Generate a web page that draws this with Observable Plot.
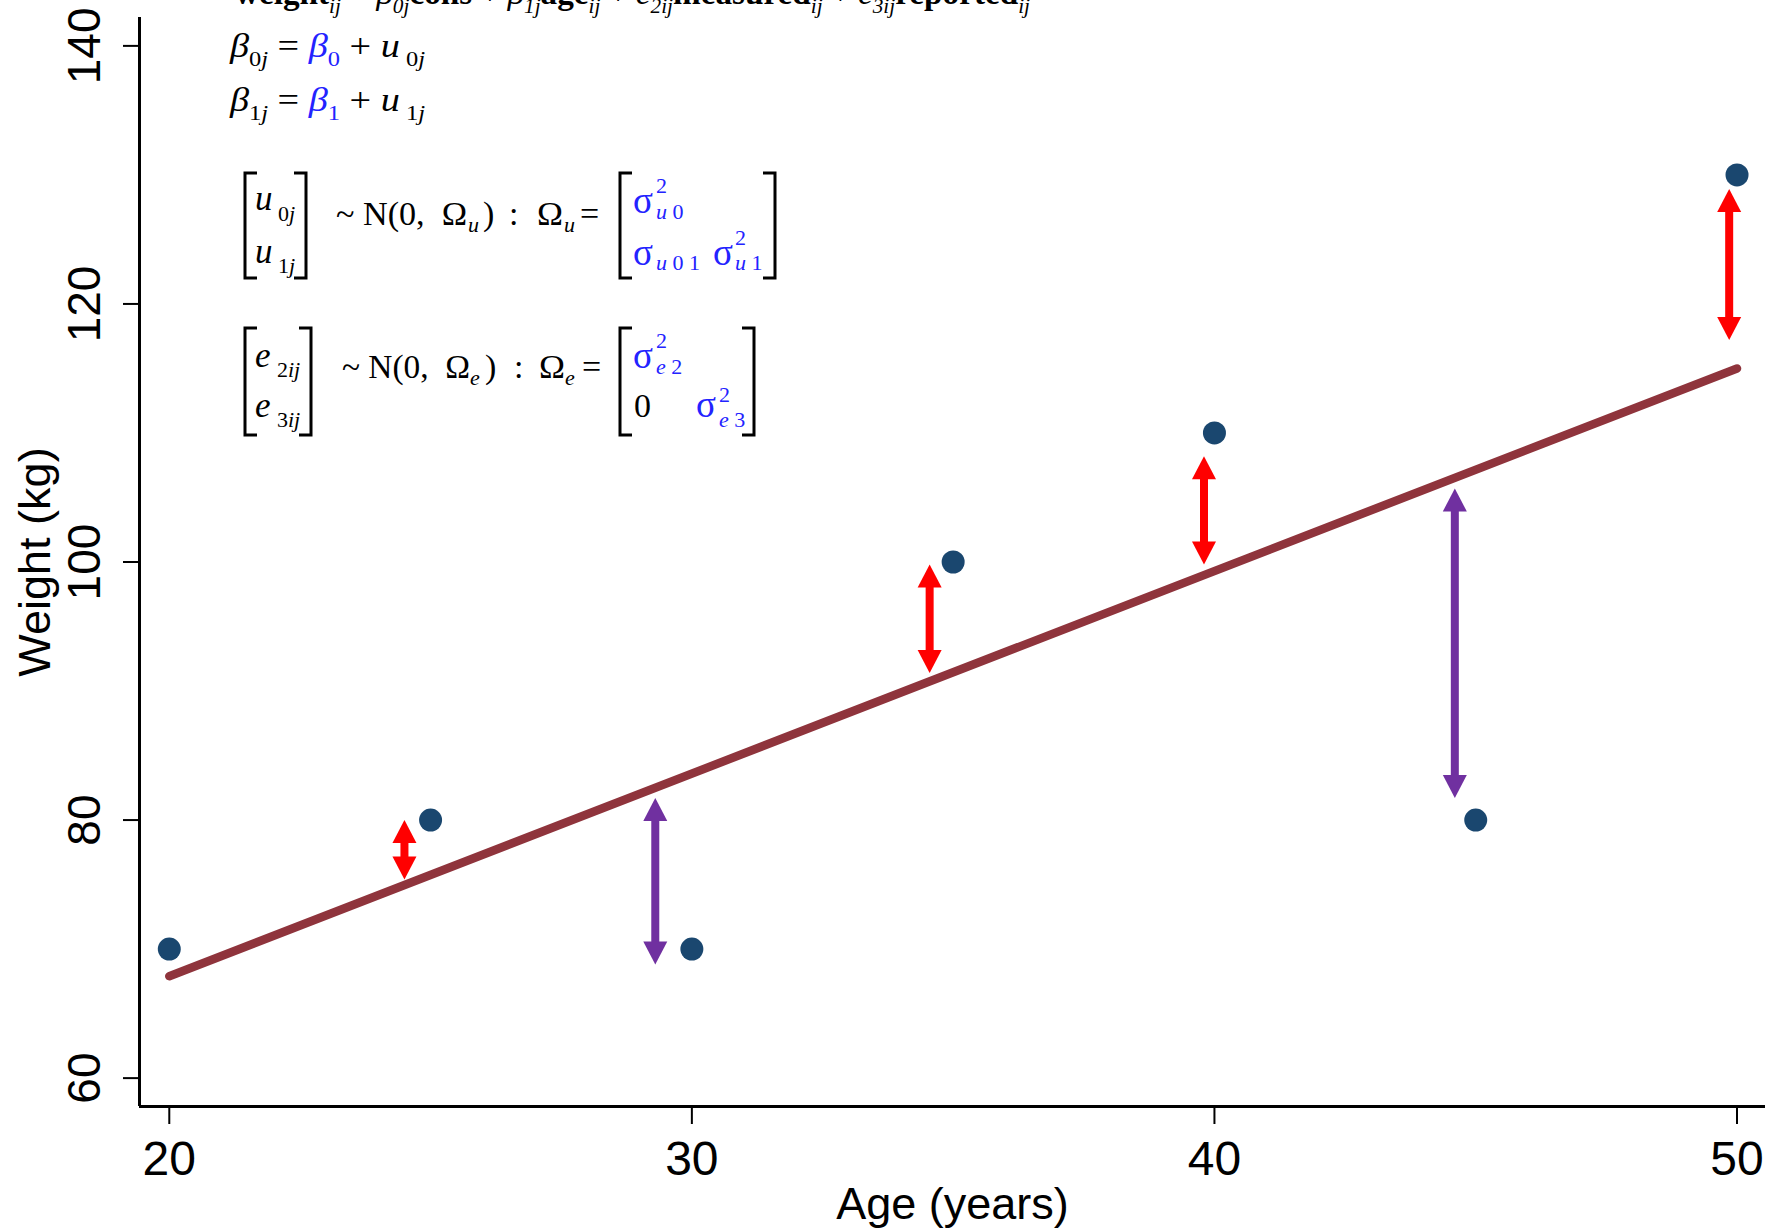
<!DOCTYPE html>
<html><head><meta charset="utf-8">
<script src="https://cdn.jsdelivr.net/npm/d3@7"></script>
<script src="https://cdn.jsdelivr.net/npm/@observablehq/plot@0.6"></script>
<style>
body{margin:0;background:#fff;}
#wrap{position:relative;width:1783px;height:1232px;overflow:hidden;background:#fff;}
#eq{position:absolute;left:0;top:0;pointer-events:none;}
</style></head><body><div id="wrap"></div>
<script>
// ---- data ----
const ages = [20, 25, 30, 35, 40, 45, 50];
const weights = [70, 80, 70, 100, 110, 80, 130];
const fitAge = [20, 50];
const fitWeight = [67.9, 115.0];
const arrowAge = [24.5, 29.3, 34.55, 39.8, 44.6, 49.85];
const arrowLow = [75.4, 68.8, 91.4, 99.8, 81.7, 117.2];
const arrowHigh = [80.0, 81.7, 99.8, 108.2, 105.7, 128.9];
const arrowKind = ["measured", "reported", "measured", "measured", "reported", "measured"];
const arrowKinds = ["measured", "reported"];
const xTicks = [20, 30, 40, 50];
const yTicks = [60, 80, 100, 120, 140];
const xLabel = "Age (years)";
const yLabel = "Weight (kg)";
const xDomain = [19.43, 50.545];
const yDomain = [57.8, 142.2];

// ---- styles ----
const pointColor = "#1a476f";
const lineColor = "#8f343c";
const arrowColors = ["#ff0000", "#7030a0"];
const BLUE = "#2323ff";

const points = ages.map((a, i) => ({age: a, w: weights[i]}));
const fit = fitAge.map((a, i) => ({age: a, w: fitWeight[i]}));
const arrows = arrowAge.map((a, i) => ({age: a, low: arrowLow[i], high: arrowHigh[i], kind: arrowKind[i]}));

const HW = 12, HL = 23;
const headUp = {draw(ctx) { ctx.moveTo(0, 0); ctx.lineTo(HW, HL); ctx.lineTo(-HW, HL); ctx.closePath(); }};
const headDown = {draw(ctx) { ctx.moveTo(0, 0); ctx.lineTo(HW, -HL); ctx.lineTo(-HW, -HL); ctx.closePath(); }};

const plot = Plot.plot({
  width: 1783, height: 1232,
  marginLeft: 139, marginRight: 18, marginTop: 17, marginBottom: 126,
  x: {domain: xDomain},
  y: {domain: yDomain},
  color: {domain: arrowKinds, range: arrowColors},
  style: {fontFamily: "'Liberation Sans', Arial, sans-serif", background: "white", color: "#000"},
  marks: [
    Plot.ruleX([xDomain[0]], {stroke: "#000", strokeWidth: 3}),
    Plot.ruleY([yDomain[0]], {stroke: "#000", strokeWidth: 3}),
    Plot.axisY(yTicks, {tickSize: 16, strokeWidth: 2, tickFormat: () => "", label: null}),
    Plot.text(yTicks, {y: d => d, frameAnchor: "left", rotate: -90, dx: -40, lineAnchor: "bottom", textAnchor: "middle", fontSize: 46, fill: "#000", text: d => String(d)}),
    Plot.axisX(xTicks, {tickSize: 18, tickPadding: 16, strokeWidth: 2, fontSize: 48, label: null, tickFormat: d => String(d)}),
    Plot.text([yLabel], {frameAnchor: "left", rotate: -90, dx: -90, lineAnchor: "bottom", textAnchor: "middle", fontSize: 45, fill: "#000", text: d => d}),
    Plot.text([xLabel], {frameAnchor: "bottom", dy: 112, lineAnchor: "bottom", textAnchor: "middle", fontSize: 45, fill: "#000", text: d => d}),
    Plot.line(fit, {x: "age", y: "w", stroke: lineColor, strokeWidth: 8.5, strokeLinecap: "round"}),
    Plot.ruleX(arrows, {x: "age", y1: "high", y2: "low", stroke: "kind", strokeWidth: 8, insetTop: 14, insetBottom: 14}),
    Plot.dot(arrows, {x: "age", y: "high", symbol: headUp, fill: "kind", stroke: null, r: 10}),
    Plot.dot(arrows, {x: "age", y: "low", symbol: headDown, fill: "kind", stroke: null, r: 10}),
    Plot.dot(points, {x: "age", y: "w", r: 11.5, fill: pointColor, stroke: null})
  ]
});
const wrap = document.getElementById("wrap");
wrap.appendChild(plot);

// ---- equation annotation overlay ----
const NS = "http://www.w3.org/2000/svg";
const ov = document.createElementNS(NS, "svg");
ov.setAttribute("width", 1783); ov.setAttribute("height", 1232); ov.id = "eq";
ov.style.fontFamily = "'Liberation Serif','Times New Roman',serif";
wrap.appendChild(ov);

function run(x, y, parts, {size = 32, len = null, fill = "#000"} = {}) {
  const t = document.createElementNS(NS, "text");
  t.setAttribute("x", x); t.setAttribute("y", y);
  t.setAttribute("font-size", size); t.setAttribute("fill", fill);
  t.style.whiteSpace = "pre";
  let cur = 0;
  for (const p of parts) {
    const ts = document.createElementNS(NS, "tspan");
    const off = p.sub ? size * 0.26 : p.sup ? -size * 0.6 : 0;
    if (off !== cur) { ts.setAttribute("dy", off - cur); cur = off; }
    if (p.sub || p.sup) ts.setAttribute("font-size", size * 0.64);
    if (p.i) ts.setAttribute("font-style", "italic");
    if (p.b) ts.setAttribute("font-weight", "bold");
    if (p.c) ts.setAttribute("fill", p.c);
    ts.textContent = p.s;
    t.appendChild(ts);
  }
  if (len) { t.setAttribute("textLength", len); t.setAttribute("lengthAdjust", "spacingAndGlyphs"); }
  ov.appendChild(t);
}
function bracket(x, top, bottom, dir) {
  const s = 12 * dir;
  const p = document.createElementNS(NS, "path");
  p.setAttribute("d", `M${x + s},${top}H${x}V${bottom}H${x + s}`);
  p.setAttribute("fill", "none"); p.setAttribute("stroke", "#000"); p.setAttribute("stroke-width", 3);
  ov.appendChild(p);
}

// line 1 (cut at the top edge, as in the original)
run(235, 4, [
  {s: "weight", b: 1}, {s: "ij", sub: 1, i: 1}, {s: " = "}, {s: "β", i: 1}, {s: "0j", sub: 1, i: 1}, {s: "cons", b: 1},
  {s: " + "}, {s: "β", i: 1}, {s: "1j", sub: 1, i: 1}, {s: "age", b: 1}, {s: "ij", sub: 1, i: 1},
  {s: " + "}, {s: "e", i: 1}, {s: "2ij", sub: 1, i: 1}, {s: "measured", b: 1}, {s: "ij", sub: 1, i: 1},
  {s: " + "}, {s: "e", i: 1}, {s: "3ij", sub: 1, i: 1}, {s: "reported", b: 1}, {s: "ij", sub: 1, i: 1}
], {len: 795, size: 33});
// lines 2, 3
for (const [k, yb] of [["0", 57], ["1", 111]]) {
  run(230, yb, [
    {s: "β", i: 1}, {s: k, sub: 1}, {s: "j", sub: 1, i: 1}, {s: " = "}, {s: "β", i: 1, c: BLUE}, {s: k, sub: 1, c: BLUE},
    {s: " + "}, {s: "u", i: 1}, {s: " " + k, sub: 1}, {s: "j", sub: 1, i: 1}
  ], {len: 195, size: 34});
}

// matrix block 1
bracket(245, 173, 278, 1); bracket(306, 173, 278, -1);
run(255, 210, [{s: "u", i: 1}], {size: 35}); run(278, 221, [{s: "0"}, {s: "j", i: 1}], {size: 22});
run(255, 263, [{s: "u", i: 1}], {size: 35}); run(278, 273, [{s: "1"}, {s: "j", i: 1}], {size: 22});
run(336, 225, [{s: "~ N(0,  Ω"}], {len: 131, size: 34});
run(468, 232, [{s: "u", i: 1}], {size: 22});
run(483, 225, [{s: ")"}], {size: 34});
run(509, 225, [{s: ":"}], {size: 34});
run(537, 225, [{s: "Ω"}], {len: 26, size: 34});
run(564, 232, [{s: "u", i: 1}], {size: 22});
run(580, 225, [{s: "="}], {size: 34});
bracket(620, 173, 278, 1); bracket(775, 173, 278, -1);
run(633, 213, [{s: "σ"}], {fill: BLUE, size: 37});
run(656, 193, [{s: "2"}], {size: 22, fill: BLUE});
run(656, 219, [{s: "u", i: 1}, {s: " 0"}], {size: 22, fill: BLUE});
run(633, 265, [{s: "σ"}], {fill: BLUE, size: 37});
run(656, 270, [{s: "u", i: 1}, {s: " 0 1"}], {size: 22, fill: BLUE});
run(713, 265, [{s: "σ"}], {fill: BLUE, size: 37});
run(735, 245, [{s: "2"}], {size: 22, fill: BLUE});
run(735, 270, [{s: "u", i: 1}, {s: " 1"}], {size: 22, fill: BLUE});

// matrix block 2
bracket(245, 328, 435, 1); bracket(311, 328, 435, -1);
run(255, 367, [{s: "e", i: 1}], {size: 35}); run(277, 377, [{s: "2"}, {s: "ij", i: 1}], {size: 22});
run(255, 417, [{s: "e", i: 1}], {size: 35}); run(277, 427, [{s: "3"}, {s: "ij", i: 1}], {size: 22});
run(342, 378, [{s: "~ N(0,  Ω"}], {len: 128, size: 34});
run(470, 385, [{s: "e", i: 1}], {size: 22});
run(485, 378, [{s: ")"}], {size: 34});
run(514, 378, [{s: ":"}], {size: 34});
run(539, 378, [{s: "Ω"}], {len: 26, size: 34});
run(565, 385, [{s: "e", i: 1}], {size: 22});
run(582, 378, [{s: "="}], {size: 34});
bracket(620, 328, 435, 1); bracket(754, 328, 435, -1);
run(633, 368, [{s: "σ"}], {fill: BLUE, size: 37});
run(656, 348, [{s: "2"}], {size: 22, fill: BLUE});
run(656, 374, [{s: "e", i: 1}, {s: " 2"}], {size: 22, fill: BLUE});
run(634, 417, [{s: "0"}], {size: 34});
run(696, 417, [{s: "σ"}], {fill: BLUE, size: 37});
run(719, 402, [{s: "2"}], {size: 22, fill: BLUE});
run(719, 427, [{s: "e", i: 1}, {s: " 3"}], {size: 22, fill: BLUE});
</script></body></html>
